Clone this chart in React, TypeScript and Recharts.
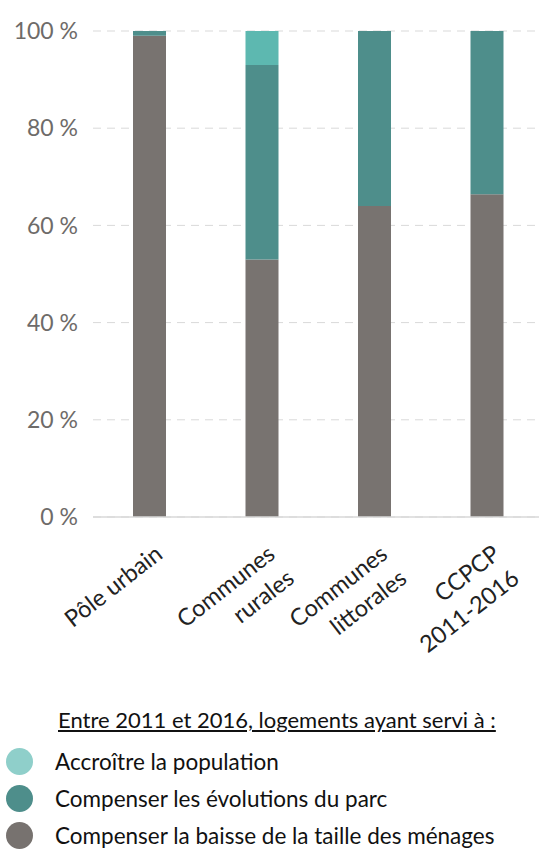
import React from 'react';
import { BarChart, Bar, XAxis, YAxis, CartesianGrid } from 'recharts';

// Catégories (territoires) et parts des logements, en %
const categories = ['Pôle urbain', 'Communes\nrurales', 'Communes\nlittorales', 'CCPCP\n2011-2016'];
const baisseTaille = [99, 53, 64, 66.4];
const evolutionParc = [1, 40, 36, 33.6];
const accroitrePop = [0, 7, 0, 0];
const yTicks = [0, 20, 40, 60, 80, 100];

const legendTitle = 'Entre 2011 et 2016, logements ayant servi à :';
const legendItems = [
  { label: 'Accroître la population', color: '#8fcfca' },
  { label: 'Compenser les évolutions du parc', color: '#4e8e8b' },
  { label: 'Compenser la baisse de la taille des ménages', color: '#77726f' },
];

const data = categories.map((name, i) => ({
  name,
  baisse: baisseTaille[i],
  parc: evolutionParc[i],
  pop: accroitrePop[i],
}));

const FONT = 'Lato, "Open Sans", sans-serif';
const X_FONT_SIZE = 23.5;
const ANGLE = -38;

// étiquettes inclinées, alignées à droite sur le repère
const AngledTick = (props: any) => {
  const { x, y, payload } = props;
  const lines = String(payload.value).split('\n');
  const lh = 31;
  return (
    <g transform={`translate(${x + 4},${y + 18}) rotate(${ANGLE})`}>
      {lines.map((l, i) => (
        <text
          key={i}
          x={0}
          y={X_FONT_SIZE * 0.75 + i * lh}
          textAnchor="end"
          fill="#222"
          fontSize={X_FONT_SIZE}
          fontFamily={FONT}
        >
          {l}
        </text>
      ))}
    </g>
  );
};

const LegendBlock = () => (
  <div style={{ position: 'absolute', left: 0, top: 706, width: 539, height: 145, fontFamily: FONT, color: '#111' }}>
    <div
      style={{
        position: 'absolute',
        left: 58,
        top: 0,
        fontSize: 22,
        lineHeight: '28px',
        textDecoration: 'underline',
        whiteSpace: 'nowrap',
      }}
    >
      {legendTitle}
    </div>
    {legendItems.map((it, i) => (
      <div
        key={it.label}
        style={{ position: 'absolute', left: 0, top: 42 + i * 37, height: 28, display: 'flex', alignItems: 'center' }}
      >
        <span
          style={{
            display: 'inline-block',
            width: 27,
            height: 27,
            borderRadius: 14,
            background: it.color,
            marginLeft: 6,
            marginRight: 22,
            position: 'relative',
            top: -1,
          }}
        />
        <span style={{ fontSize: 22.5, lineHeight: '28px', whiteSpace: 'nowrap' }}>{it.label}</span>
      </div>
    ))}
  </div>
);

const App: React.FC = () => {
  return (
    <div style={{ position: 'absolute', left: 0, top: 0, width: 539, height: 851, overflow: 'hidden', background: '#fff' }}>
      <BarChart
        width={545}
        height={851}
        data={data}
        margin={{ top: 31, right: 2, left: 0, bottom: 0 }}
        barSize={33}
      >
        <CartesianGrid vertical={false} stroke="#d9d9d9" strokeDasharray="8 6" />
        <XAxis
          dataKey="name"
          height={334}
          axisLine={{ stroke: '#d9d9d9', strokeWidth: 1.5 }}
          tickLine={false}
          interval={0}
          tick={<AngledTick />}
        />
        <YAxis
          width={93}
          domain={[0, 100]}
          ticks={yTicks}
          tickFormatter={(v: number) => `${v} %`}
          axisLine={false}
          tickLine={false}
          tickMargin={9}
          tick={{ fill: '#6e6b69', fontSize: 23, fontFamily: FONT }}
        />
        <Bar dataKey="baisse" stackId="a" fill="#787370" isAnimationActive={false} />
        <Bar dataKey="parc" stackId="a" fill="#4e8e8b" isAnimationActive={false} />
        <Bar dataKey="pop" stackId="a" fill="#5db8b0" isAnimationActive={false} />
      </BarChart>
      <LegendBlock />
    </div>
  );
};

export default App;
